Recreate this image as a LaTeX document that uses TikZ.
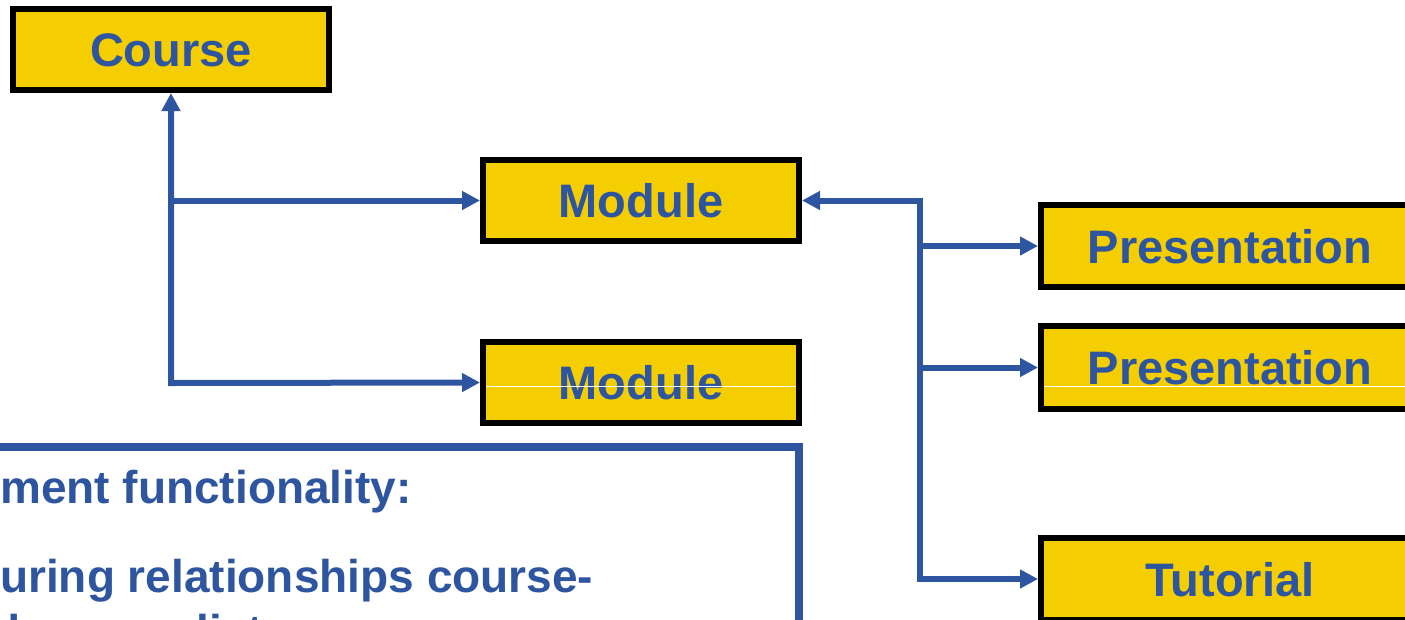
\documentclass[tikz,border=0pt]{standalone}
\usepackage{fontspec}
\setmainfont{Liberation Sans}
\usetikzlibrary{arrows.meta}
\definecolor{dblue}{HTML}{2E559F}
\definecolor{gold}{HTML}{F4CE00}
\tikzset{
  item/.style={draw=black, line width=6pt, fill=gold, text=dblue,
    font=\fontsize{47}{56}\selectfont\bfseries, text depth=0pt, text height=34pt,
    inner sep=0pt, minimum width=316pt, minimum height=81pt},
  wide/.style={item, minimum width=378pt, minimum height=82pt},
  link/.style={draw=dblue, line width=6pt, line join=miter,
    {Triangle[length=18pt,width=18pt]}-{Triangle[length=18pt,width=18pt]}},
  link1/.style={draw=dblue, line width=6pt, -{Triangle[length=18pt,width=18pt]}},
  bodytext/.style={text=dblue, font=\fontsize{46}{55}\selectfont\bfseries, inner sep=0pt, anchor=base west},
  artifact/.style={draw=white, line width=1.5pt}
}
\begin{document}
\begin{tikzpicture}[x=1pt,y=-1pt]
\useasboundingbox (0,0) rectangle (1405,619);
% boxes
\node[item] (c) at (171,49.5) {Course};
\node[item] (m1) at (641,200.5) {Module};
\node[item] (m2) at (641,382.5) {Module};
\node[wide] (p1) at (1230,246) {Presentation};
\node[wide, minimum height=83pt] (p2) at (1230,367.5) {Presentation};
\node[wide] (t) at (1230,579) {Tutorial};
% thin white lines seen across two boxes
\draw[artifact] (486,386.5) -- (796,386.5);
\draw[artifact] (1044,386.5) -- (1405,386.5);
% connectors, left tree
\coordinate (jL) at (171,383);
\draw[link] (c.south) -- (jL) -- (m2.west);
\draw[link1] (c.south |- m1.west) -- (m1.west);
% connectors, right tree
\coordinate (jR) at (920,200.5);
\draw[link] (m1.east) -- (jR) |- (t.west);
\draw[link1] (jR |- p1.west) -- (p1.west);
\draw[link1] (jR |- p2.west) -- (p2.west);
% text frame
\node[draw=dblue, line width=8pt, minimum width=900pt, minimum height=300pt, inner sep=0pt] (tb) at (349,597) {};
\node[bodytext] (l1) at (0,503) {\llap{Manage}ment functionality:};
\node[bodytext] (l2) at (0,592) {\llap{- Struct}uring relationships course-};
\node[bodytext] (l3) at (-8,647) {\llap{relate}d course list};
\end{tikzpicture}
\end{document}
